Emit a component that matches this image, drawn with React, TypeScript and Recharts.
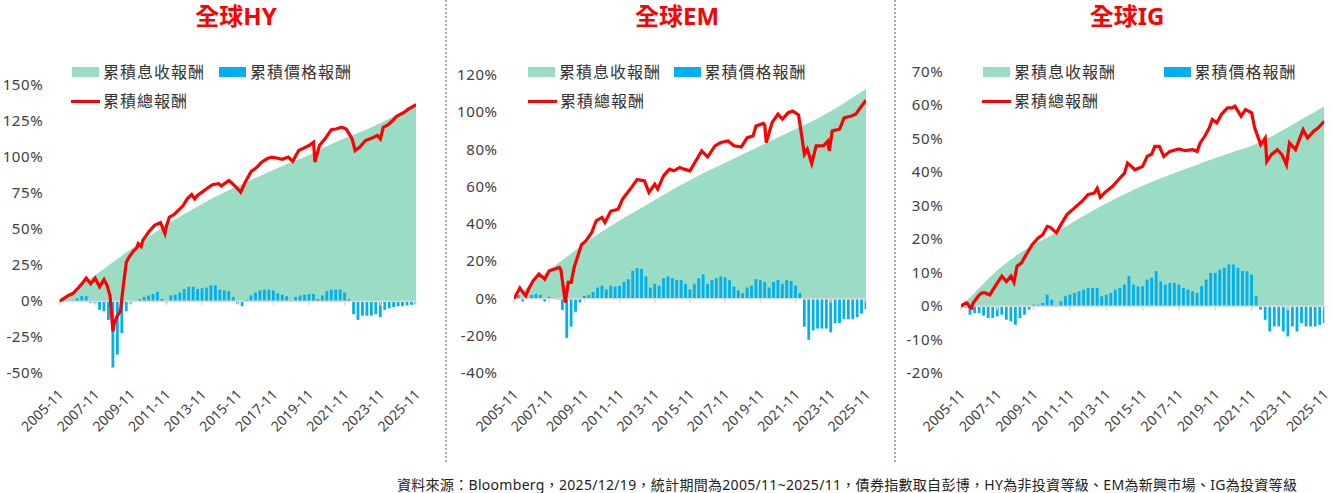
import React from 'react'
import { ComposedChart, Area, Bar, Line, XAxis, YAxis, ReferenceLine } from 'recharts'

// months counted from 2005-11 (0) to 2025-11 (240)
const xTickMonths = [0, 24, 48, 72, 96, 120, 144, 168, 192, 216, 240]
const xTickLabels = ['2005-11', '2007-11', '2009-11', '2011-11', '2013-11', '2015-11', '2017-11', '2019-11', '2021-11', '2023-11', '2025-11']
const incomeMonths = [0, 12, 24, 36, 48, 60, 72, 84, 96, 108, 120, 132, 144, 156, 168, 180, 192, 204, 216, 228, 240]
const quarterMonths = Array.from({ length: 81 }, (_, i) => i * 3)

const legendLabels = ['累積息收報酬', '累積價格報酬', '累積總報酬']
const footerText = '資料來源：Bloomberg，2025/12/19，統計期間為2005/11~2025/11，債券指數取自彭博，HY為非投資等級、EM為新興市場、IG為投資等級'

// 全球HY
const hyYTicks = [-50, -25, 0, 25, 50, 75, 100, 125, 150]
const hyIncome = [0, 9, 18, 27, 36, 44.5, 53, 60.5, 67.5, 74, 80, 85.5, 91, 96.5, 101.5, 107.5, 113, 118, 123.5, 130, 137.5]
const hyPrice = [
  0.3, 0.5, 0.3, 0.5, 2, 3.5, 3.5, -1, -1.5, -6,
  -7, -13, -46, -37, -22, -7, -2, 0, 1.5, 3,
  4, 5, 6.5, 1.5, -1, 4, 4.5, 6, 8.5, 10,
  10, 8.5, 9, 9.5, 11, 11, 8, 7.5, 7, 3,
  -2, -3.5, 1, 4, 6, 7.5, 8, 8, 7.5, 5.5,
  4.5, 3.5, 0.5, 3, 4, 4.5, 5, 5, 1.5, 4,
  7, 8, 8, 8, 6, 1.5, -9, -13, -10, -10,
  -10, -9, -11, -6, -5, -4, -3.5, -3.5, -3, -2.5,
  -2,
]
const hyTotalMonths = [
  0, 3, 6, 9, 12, 15, 18, 21, 24, 27, 30, 32, 34, 36, 37, 39, 41, 43, 45, 47,
  50, 52, 53, 55, 56, 58, 60, 64, 68, 71, 72, 74, 77, 80, 83, 86, 89, 91, 93, 96,
  99, 103, 107, 109, 114, 116, 118, 122, 125, 129, 133, 136, 140, 143, 147, 150, 154, 157, 161, 164,
  168, 171, 172, 175, 179, 183, 186, 190, 193, 197, 199, 202, 206, 210, 214, 216, 218, 221, 224, 227,
  232, 235, 237, 240,
]
const hyTotal = [
  0, 2, 4, 5.3, 8.5, 12, 16, 12.2, 16, 10, 15, 11, 4, -21, -15, -10, -7, 11, 27, 31,
  35, 37, 40, 38, 42, 45, 48, 52.6, 54.5, 47, 52, 58.4, 60, 63, 66, 71, 74, 71, 73.5, 75.7,
  78, 80.8, 81.5, 80, 83.8, 82, 80, 75.7, 82.6, 90, 93, 96.5, 99, 100, 99.2, 98.5, 100, 97, 104.5, 106,
  108, 110.3, 96.5, 108, 113, 119, 119.5, 120.7, 119.5, 112.6, 104.5, 106.8, 111.5, 113, 115, 112.6, 120.7, 122.3, 125, 128.3,
  131, 133.4, 134.5, 136.4,
]

// 全球EM
const emYTicks = [-40, -20, 0, 20, 40, 60, 80, 100, 120]
const emIncome = [0, 8, 15.5, 22.5, 29.5, 36, 42, 47.5, 53, 58.5, 63.5, 68.5, 73, 77.5, 82, 86.5, 91, 95.5, 100.5, 106.5, 112.5]
const emPrice = [
  0, 2, -1.5, 0.5, 2, 2.5, 2, -1.5, 1, 0.5,
  -0.5, -6, -21, -15, -7, -2, 1.5, 2, 3.5, 6,
  7, 5, 7, 6.5, 7, 9, 10.5, 15, 16.5, 16,
  12, 6, 8, 7, 11, 12, 11, 10, 10, 8,
  5, 8, 11, 13, 8, 10, 11, 12, 11.5, 10,
  6.5, 4.5, 3, 6, 7, 10.5, 10, 9, 6, 9,
  10, 8, 10, 9.5, 7, 3, -15, -22, -17, -16,
  -16, -16, -18, -13, -13, -11, -11, -11, -10, -8,
  -5.5,
]
const emTotalMonths = [
  0, 4, 6, 8, 10, 13, 17, 21, 24, 28, 31, 32, 35, 37, 39, 41, 46, 49, 53, 56,
  60, 62, 66, 71, 74, 80, 84, 89, 92, 96, 98, 102, 106, 109, 113, 116, 120, 124, 128, 132,
  137, 141, 146, 150, 155, 159, 163, 165, 170, 171, 172, 176, 180, 183, 187, 190, 194, 196, 198, 200,
  203, 206, 211, 214, 215, 217, 222, 225, 230, 233, 237, 240,
]
const emTotal = [
  0, 5.7, 3.4, 1.6, 5.2, 9.6, 13.2, 10.5, 15, 15.9, 16.8, 15.4, -2, 8.8, 8.8, 16.8, 29, 31, 35.5, 41.8,
  43.6, 40.9, 47, 48, 53.4, 59.6, 64, 63.2, 57, 61.4, 58.8, 66, 69.5, 68.6, 70.4, 69.5, 68.6, 74, 79.3, 76,
  82, 83.8, 84.6, 82, 81.4, 86.4, 87.3, 92.7, 94, 93, 83.8, 94.5, 99, 96.3, 99.8, 100.7, 98.6, 88.2, 77.5, 80.2,
  72.5, 82, 82, 84.6, 79.3, 90, 90.9, 97, 98, 99, 103.4, 106.4,
]

// 全球IG
const igYTicks = [-20, -10, 0, 10, 20, 30, 40, 50, 60, 70]
const igIncome = [0, 5.5, 10.8, 15, 18.5, 21.3, 24.6, 27.8, 30.8, 33.5, 36, 38.3, 40.3, 42.3, 44.3, 46.2, 48, 50.5, 53.5, 56.6, 59.8]
const igPrice = [
  0, -0.4, -2.5, -2, -2, -2.8, -3.5, -3.5, -3, -2.5,
  -4, -4.5, -5.5, -3.5, -2.5, -1, 0.5, 0.5, 1, 3.5,
  2, 0.3, 1.5, 3, 3.5, 4, 4.5, 5, 5.5, 5.5,
  5.5, 3, 3.5, 4, 5, 5.5, 6.5, 9, 6.5, 6,
  6, 8, 8.5, 10.5, 7.5, 6.5, 7, 7, 6.5, 5.5,
  5, 4.5, 4, 6, 8, 10, 10, 11, 11.5, 12.5,
  12.5, 11.5, 10.5, 10.5, 9.5, 3, -1, -4, -7.5, -6,
  -6, -7.5, -9, -6, -7.5, -5, -6, -6, -6, -5.5,
  -5,
]
const igTotalMonths = [
  0, 3, 4, 6, 7, 8, 12, 14, 16, 19, 24, 27, 30, 33, 35, 37, 40, 43, 47, 51,
  54, 57, 59, 63, 66, 70, 75, 80, 84, 88, 90, 92, 96, 100, 104, 108, 110, 115, 120, 123,
  126, 128, 131, 134, 138, 144, 148, 153, 156, 158, 161, 164, 166, 169, 172, 176, 179, 181, 185, 188,
  192, 194, 198, 201, 202, 205, 209, 212, 215, 217, 221, 226, 229, 233, 236, 240,
]
const igTotal = [
  0, 1, 1, -0.3, -0.5, 1, 3.4, 4, 4, 3.4, 7, 9, 7.4, 9, 7.2, 12, 13, 15.4, 18.4, 20.4,
  21.4, 23.9, 23.6, 22, 24.4, 27.4, 29.4, 31.4, 33.4, 33.8, 35.3, 32.6, 34.4, 35.8, 37.8, 39.8, 42.8, 40.8, 41.8, 44.8,
  45.5, 47.8, 47.8, 44.8, 46.3, 47, 46.5, 46.8, 46.3, 48.8, 50.8, 53.3, 55.8, 54.8, 57.3, 59.3, 59.3, 59.8, 56.8, 58.8,
  57.8, 53.3, 48.3, 50.3, 43.3, 45.3, 46.8, 45.3, 42.3, 48.8, 46.8, 52.8, 50.3, 52.3, 53.3, 55.3,
]

const FONT = '"Noto Sans", "Noto Sans CJK TC", sans-serif'
const GREEN = '#9bdcc4'
const BLUE = '#00b0f0'
const RED = '#ff0000'
const TEXT = '#404040'
const BAR_W = 2.8

const XTick = ({ x, y, payload }: any) => {
  const label = xTickLabels[xTickMonths.indexOf(payload.value)]
  const ax = x + 5
  const ay = y + 22
  return (
    <text x={ax} y={ay} transform={`rotate(-45 ${ax} ${ay})`} textAnchor="end" fill={TEXT} fontSize={14} fontFamily={FONT}>
      {label}
    </text>
  )
}

const YTick = ({ x, y, payload }: any) => (
  <text x={x} y={y} dy={5} textAnchor="end" fill={TEXT} fontSize={15} fontFamily={FONT} letterSpacing={0.6}>
    {`${payload.value}%`}
  </text>
)

// fixed-width bar centred on the bar slot the library computed
const PriceBar = (props: any) => {
  const { x, y, width, height } = props
  if (height == null || Number.isNaN(height)) return null
  const cx = x + width / 2
  const top = height < 0 ? y + height : y
  return <rect x={cx - BAR_W / 2} y={top} width={BAR_W} height={Math.abs(height)} fill={BLUE} />
}

function Legend({ greenX, blueX, redX }: { greenX: number; blueX: number; redX: number }) {
  const txt = { position: 'absolute' as const, fontSize: 16, letterSpacing: 1, lineHeight: '22px', color: '#333', fontFamily: FONT, whiteSpace: 'nowrap' as const }
  return (
    <>
      <div style={{ position: 'absolute', left: greenX, top: 67, width: 27, height: 10, background: GREEN }} />
      <div style={{ ...txt, left: greenX + 31, top: 61 }}>{legendLabels[0]}</div>
      <div style={{ position: 'absolute', left: blueX, top: 67, width: 27, height: 10, background: BLUE }} />
      <div style={{ ...txt, left: blueX + 31, top: 61 }}>{legendLabels[1]}</div>
      <div style={{ position: 'absolute', left: redX, top: 100, width: 29, height: 3, background: RED }} />
      <div style={{ ...txt, left: redX + 32, top: 90 }}>{legendLabels[2]}</div>
    </>
  )
}

interface PanelProps {
  title: string
  titleX: number
  left: number
  width: number
  yWidth: number
  top: number
  right: number
  plotBottom: number
  domain: [number, number]
  yTicks: number[]
  tickGap: number
  zeroTick: number
  income: number[]
  price: number[]
  totalMonths: number[]
  total: number[]
  legend: { greenX: number; blueX: number; redX: number }
}

const HEIGHT = 460

function Panel(p: PanelProps) {
  const barRows = quarterMonths.map((m, i) => ({ m, price: p.price[i] }))
  const incomeRows = incomeMonths.map((m, i) => ({ m, income: p.income[i] }))
  const totalRows = p.totalMonths.map((m, i) => ({ m, total: p.total[i] }))
  return (
    <>
      <div
        style={{
          position: 'absolute', left: p.titleX - 100, top: 3, width: 200, lineHeight: '26px', textAlign: 'center',
          color: RED, fontSize: 24, fontWeight: 'bold', fontFamily: FONT,
        }}
      >
        {p.title}
      </div>
      <div style={{ position: 'absolute', left: p.left, top: 0 }}>
        <ComposedChart width={p.width} height={HEIGHT} data={barRows} margin={{ top: p.top, right: p.right, bottom: 0, left: 0 }}>
          <XAxis
            type="number"
            dataKey="m"
            domain={[0, 240]}
            ticks={xTickMonths}
            interval={0}
            axisLine={false}
            tickLine={false}
            tickSize={0}
            tickMargin={0}
            height={HEIGHT - p.plotBottom}
            tick={(t: any) => <XTick {...t} />}
            allowDataOverflow
          />
          <YAxis
            type="number"
            domain={p.domain}
            ticks={p.yTicks}
            interval={0}
            width={p.yWidth}
            axisLine={false}
            tickLine={false}
            tickSize={0}
            tickMargin={p.tickGap}
            tick={(t: any) => <YTick {...t} />}
            allowDataOverflow
          />
          <Area data={incomeRows} dataKey="income" type="monotone" fill={GREEN} fillOpacity={1} stroke="none" baseValue={0} isAnimationActive={false} />
          <ReferenceLine y={0} stroke="#d9d9d9" strokeWidth={1.5} />
          {xTickMonths.map((m) => (
            <ReferenceLine key={m} segment={[{ x: m, y: 0 }, { x: m, y: -p.zeroTick }]} stroke="#d9d9d9" strokeWidth={1.5} />
          ))}
          <Bar dataKey="price" fill={BLUE} barSize={2} shape={PriceBar} isAnimationActive={false} />
          <Line data={totalRows} dataKey="total" type="linear" stroke={RED} strokeWidth={3.2} dot={false} isAnimationActive={false} />
        </ComposedChart>
      </div>
      <Legend {...p.legend} />
    </>
  )
}

export default function App() {
  return (
    <div style={{ position: 'absolute', left: 0, top: 0, width: 1333, height: 493, background: '#fff', overflow: 'hidden', fontFamily: FONT }}>
      <Panel
        title="全球HY" titleX={236} left={0} width={430} yWidth={59.5} top={85} right={14} plotBottom={373.3}
        domain={[-50, 150]} yTicks={hyYTicks} tickGap={16.2} zeroTick={2.8}
        income={hyIncome} price={hyPrice} totalMonths={hyTotalMonths} total={hyTotal}
        legend={{ greenX: 72, blueX: 219, redX: 71 }}
      />
      <Panel
        title="全球EM" titleX={677} left={450} width={430} yWidth={64} top={75} right={14} plotBottom={373.3}
        domain={[-40, 120]} yTicks={emYTicks} tickGap={16.3} zeroTick={2.1}
        income={emIncome} price={emPrice} totalMonths={emTotalMonths} total={emTotal}
        legend={{ greenX: 528, blueX: 673.5, redX: 528 }}
      />
      <Panel
        title="全球IG" titleX={1127} left={897} width={436} yWidth={64} top={72} right={8.7} plotBottom={373.3}
        domain={[-20, 70]} yTicks={igYTicks} tickGap={17.7} zeroTick={1.2}
        income={igIncome} price={igPrice} totalMonths={igTotalMonths} total={igTotal}
        legend={{ greenX: 983, blueX: 1163.5, redX: 982 }}
      />
      <div style={{ position: 'absolute', left: 445, top: 0, height: 462, borderLeft: '2px dotted #aaaaaa' }} />
      <div style={{ position: 'absolute', left: 894, top: 0, height: 462, borderLeft: '2px dotted #aaaaaa' }} />
      <div
        style={{
          position: 'absolute', left: 397, top: 475, lineHeight: '20px', fontSize: 14, letterSpacing: 0.3,
          color: '#222', whiteSpace: 'nowrap', fontFamily: FONT,
        }}
      >
        {footerText}
      </div>
    </div>
  )
}
